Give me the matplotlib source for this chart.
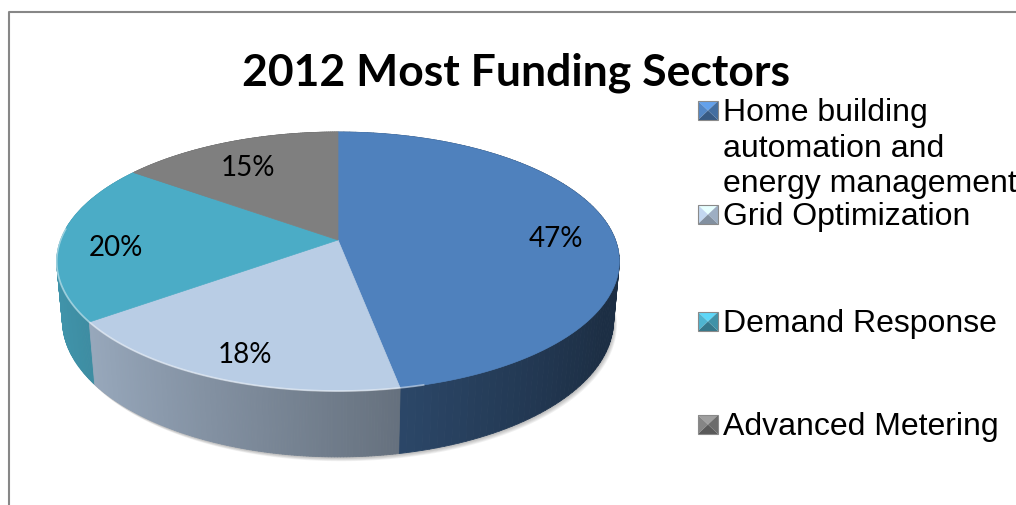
import numpy as np
import matplotlib
matplotlib.use('Agg')
import matplotlib.pyplot as plt
from matplotlib.patches import Polygon
from matplotlib.collections import PolyCollection
from matplotlib.colors import to_rgb

# Sector shares, 2012
sectors = ['Home building\nautomation and\nenergy management',
           'Grid Optimization', 'Demand Response', 'Advanced Metering']
shares = [47, 18, 20, 15]
colors = ['#4F81BD', '#B9CDE5', '#4BACC6', '#7F7F7F']
title = '2012 Most Funding Sectors'

# 3d pie camera (pixel space)
ELEV = np.radians(27)
DIST = 5.36
FOCAL = 1487
CX, CY = 338, 241
THICK = 0.24
LABEL_R = 0.8


def project(x, y, z):
    c, s = np.cos(ELEV), np.sin(ELEV)
    d = DIST + y * c - z * s
    return CX + FOCAL * x / d, CY - FOCAL * (y * s + z * c) / d


def shade(col, k):
    return tuple(np.clip(np.array(to_rgb(col)) * k, 0, 1))


def ring(phis, z):
    px, py = project(np.cos(phis), np.sin(phis), z)
    return np.column_stack([px, py])


fig = plt.figure(figsize=(10.16, 5.06), dpi=100)
ax = fig.add_axes([0, 0, 1, 1])
ax.set_xlim(0, 1016)
ax.set_ylim(506, 0)
ax.axis('off')

# chart frame
ax.plot([9, 9, 1016], [506, 13, 13], color='#878787', lw=1.5)

frac = np.array(shares, dtype=float) / sum(shares)
edges = np.radians(90 - 360 * np.concatenate([[0], np.cumsum(frac)]))

# soft shadow under the disc
full = np.linspace(0, 2 * np.pi, 360)
for j in range(5):
    pts = ring(full, -THICK) + np.array([1.0 + 0.6 * j, 1.5 + 0.7 * j])
    ax.add_patch(Polygon(pts, closed=True, facecolor='#000000', alpha=0.05,
                         edgecolor='none'))

# side wall, shaded by angle
quads, fcs, keys = [], [], []
for i in range(len(shares)):
    phis = np.linspace(edges[i], edges[i + 1], 120)
    top = ring(phis, 0)
    bot = ring(phis, -THICK)
    for k in range(len(phis) - 1):
        quads.append([top[k], top[k + 1], bot[k + 1], bot[k]])
        mid = 0.5 * (phis[k] + phis[k + 1])
        fcs.append(shade(colors[i], np.clip(0.6 - 0.27 * np.cos(mid), 0.36, 1)))
        keys.append(np.sin(mid))
order = np.argsort(keys)[::-1]
ax.add_collection(PolyCollection([quads[o] for o in order],
                                 facecolors=[fcs[o] for o in order],
                                 edgecolors=[fcs[o] for o in order], lw=0.6))

# top face
apex = project(0, 0, 0)
for i in range(len(shares)):
    phis = np.linspace(edges[i], edges[i + 1], 200)
    pts = np.vstack([[apex], ring(phis, 0)])
    ax.add_patch(Polygon(pts, closed=True, facecolor=colors[i],
                         edgecolor=colors[i], lw=0.5))

# rim highlight on the front edge
front = np.linspace(np.radians(-185), np.radians(-75), 120)
rim = ring(front, 0)
ax.plot(rim[:, 0], rim[:, 1], color='white', alpha=0.45, lw=1.3)

# percentage labels
for i, s in enumerate(shares):
    mid = 0.5 * (edges[i] + edges[i + 1])
    lx, ly = project(LABEL_R * np.cos(mid), LABEL_R * np.sin(mid), 0)
    ax.text(lx, ly + 7, f'{s}%', ha='center', va='center', fontsize=20,
            family='Lato', color='black')

ax.text(516, 85, title, ha='center', va='baseline', fontsize=32,
        family='Lato', fontweight='bold')

# legend
baselines = [121, 225, 332, 435]
line_gap = 35.5
for i, name in enumerate(sectors):
    b = baselines[i]
    x0, x1, y0, y1 = 698, 718, b - 19, b
    xm, ym = (x0 + x1) / 2, (y0 + y1) / 2
    tris = [([x0, y0], [x1, y0], [xm, ym], 1.25),
            ([x0, y0], [x0, y1], [xm, ym], 1.05),
            ([x1, y0], [x1, y1], [xm, ym], 0.85),
            ([x0, y1], [x1, y1], [xm, ym], 0.7)]
    for p, q, m, k in tris:
        ax.add_patch(Polygon([p, q, m], closed=True, facecolor=shade(colors[i], k),
                             edgecolor='none'))
    ax.add_patch(Polygon([[x0, y0], [x1, y0], [x1, y1], [x0, y1]], closed=True,
                         facecolor='none', edgecolor='#8a8a8a', lw=0.8))
    for j, line in enumerate(name.split('\n')):
        ax.text(723, b + j * line_gap, line, ha='left', va='baseline',
                fontsize=23, family='Liberation Sans', color='black')

fig.savefig('out.png', dpi=100)
